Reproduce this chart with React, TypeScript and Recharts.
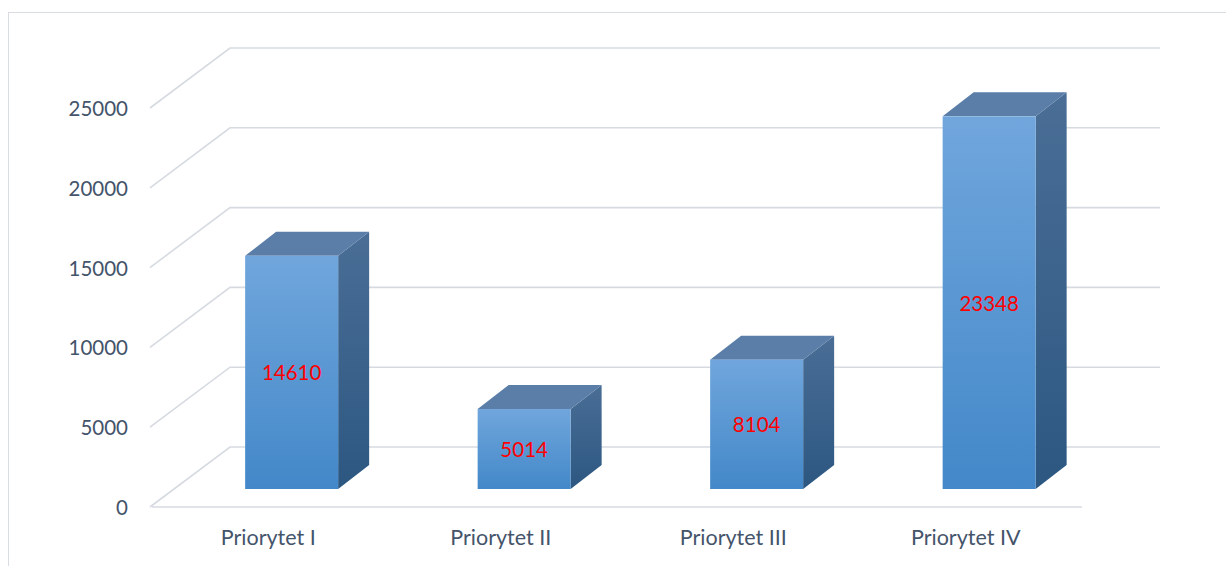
import {
  Bar,
  BarChart,
  CartesianGrid,
  LabelList,
  ReferenceLine,
  XAxis,
  YAxis,
} from "recharts";

const categories = ["Priorytet I", "Priorytet II", "Priorytet III", "Priorytet IV"];
const values = [14610, 5014, 8104, 23348];
const yTicks = [0, 5000, 10000, 15000, 20000, 25000];

const data = categories.map((name, i) => ({ name, value: values[i] }));

// fake perspective: back wall offset and bar placement inside the depth
const WALL_DX = 78;
const WALL_DY = 60;
const SHIFT_X = 23.4;
const SHIFT_Y = 18;
const BAR_DX = 31;
const BAR_DY = 24;

const GRID = "#d6dae1";
const TEXT = "#44546a";
const FONT = "Lato, 'Noto Sans', sans-serif";

const gridLine = (props: any) => {
  const { x1, x2, y1, index } = props;
  return (
    <polyline
      key={`grid-${index}`}
      points={`${x1 - 2},${y1} ${x1 + WALL_DX},${y1 - WALL_DY} ${x2 + WALL_DX},${y1 - WALL_DY}`}
      fill="none"
      stroke={GRID}
      strokeWidth={1.6}
    />
  );
};

const Bar3D = (props: any) => {
  const { x, y, width, height } = props;
  const fx = x + SHIFT_X;
  const fy = y - SHIFT_Y;
  const top = `${fx},${fy} ${fx + BAR_DX},${fy - BAR_DY} ${fx + width + BAR_DX},${fy - BAR_DY} ${fx + width},${fy}`;
  const side = `${fx + width},${fy} ${fx + width + BAR_DX},${fy - BAR_DY} ${fx + width + BAR_DX},${fy + height - BAR_DY} ${fx + width},${fy + height}`;
  return (
    <g>
      <polygon points={side} fill="url(#sideGrad)" />
      <polygon points={top} fill="#5a7ea8" />
      <rect x={fx} y={fy} width={width} height={height} fill="url(#frontGrad)" />
    </g>
  );
};

const renderLabel = (props: any) => {
  const { x, y, width, height, value } = props;
  return (
    <text
      x={x + width / 2 + SHIFT_X}
      y={y + height / 2 - SHIFT_Y}
      fill="#ff0000"
      fontSize={20.5}
      fontFamily={FONT}
      textAnchor="middle"
      dominantBaseline="central"
    >
      {value}
    </text>
  );
};

const XTick = ({ x, y, payload }: any) => (
  <text
    x={x}
    y={y}
    dy={22}
    fill={TEXT}
    fontSize={21.5}
    fontFamily={FONT}
    textAnchor="middle"
    dominantBaseline="central"
  >
    {payload.value}
  </text>
);

const YTick = ({ x, y, payload }: any) => (
  <text
    x={x - 16}
    y={y}
    fill={TEXT}
    fontSize={20.5}
    fontFamily={FONT}
    textAnchor="end"
    dominantBaseline="central"
  >
    {payload.value}
  </text>
);

export default function App() {
  return (
    <div style={{ position: "absolute", left: 0, top: 0, width: 1226, height: 566, overflow: "hidden", background: "#fff" }}>
      <div
        style={{
          position: "absolute",
          left: 8,
          top: 12,
          width: 1218,
          height: 554,
          borderTop: "1.5px solid #d9dde3",
          borderLeft: "1.5px solid #d9dde3",
          boxSizing: "border-box",
        }}
      />
      <div style={{ position: "absolute", left: 0, top: 0 }}>
        <BarChart
          width={1226}
          height={566}
          data={data}
          margin={{ top: 108, right: 144, bottom: 0, left: 0 }}
          barCategoryGap="30%"
        >
          <defs>
            <linearGradient id="frontGrad" x1="0" y1="0" x2="0" y2="1">
              <stop offset="0%" stopColor="#70a6dc" />
              <stop offset="100%" stopColor="#4388c9" />
            </linearGradient>
            <linearGradient id="sideGrad" x1="0" y1="0" x2="0" y2="1">
              <stop offset="0%" stopColor="#4a6e96" />
              <stop offset="100%" stopColor="#2c5781" />
            </linearGradient>
          </defs>
          <CartesianGrid vertical={false} horizontal={gridLine} />
          <ReferenceLine y={0} stroke={GRID} strokeWidth={1.6} />
          <XAxis
            dataKey="name"
            height={59}
            axisLine={false}
            tickLine={false}
            tick={<XTick />}
          />
          <YAxis
            width={152}
            domain={[0, 25000]}
            ticks={yTicks}
            axisLine={false}
            tickLine={false}
            tick={<YTick />}
          />
          <Bar dataKey="value" shape={<Bar3D />} isAnimationActive={false}>
            <LabelList dataKey="value" content={renderLabel} />
          </Bar>
        </BarChart>
      </div>
    </div>
  );
}
